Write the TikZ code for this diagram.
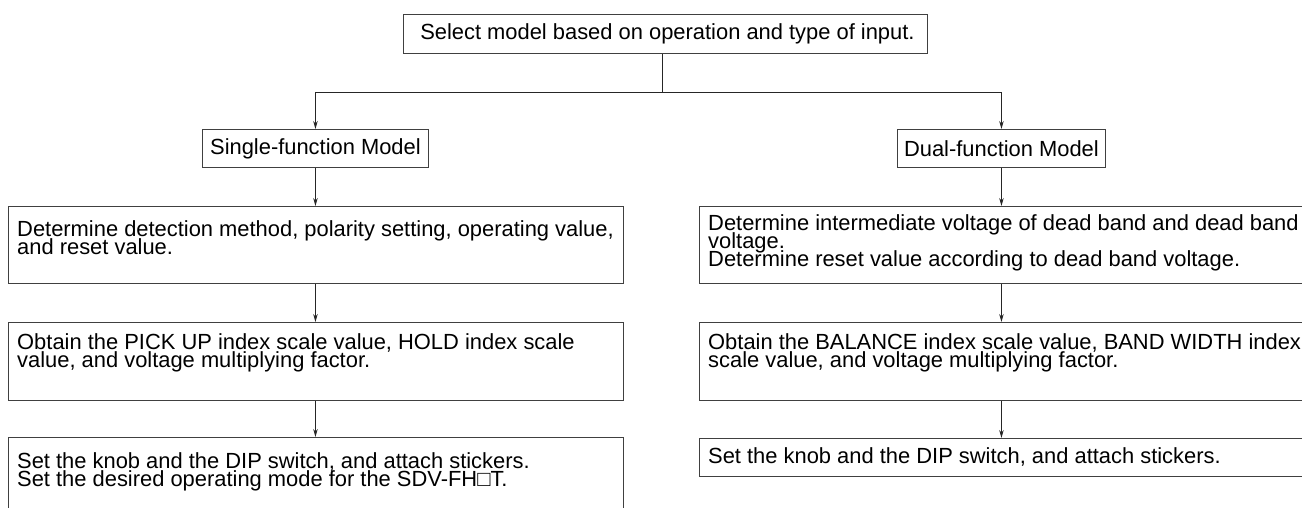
\documentclass[tikz,border=0pt]{standalone}
\usepackage{fontspec}
\setmainfont{Liberation Sans}
\usetikzlibrary{arrows.meta,calc}
\newcommand{\boxfont}{\fontsize{21.9}{18}\selectfont\lineskiplimit=-50pt\relax}
\begin{document}
\begin{tikzpicture}[x=1pt,y=-1pt,
  box/.style={draw=black!75,line width=0.9pt,inner sep=0pt,anchor=north west},
  txt/.style={anchor=north west,inner sep=0pt,align=left,font=\boxfont},
  ctxt/.style={inner sep=0pt,font=\boxfont},
  conn/.style={draw=black!85,line width=0.9pt},
  arr/.style={conn,-{Stealth[length=8pt,width=4.5pt]}}]
\useasboundingbox (0,0) rectangle (1302,508);
\clip (0,0) rectangle (1302,508);
% boxes
\node[box,minimum width=524pt,minimum height=39pt] (top) at (403,14) {};
\node[box,minimum width=226pt,minimum height=38pt] (single) at (202,129) {};
\node[box,minimum width=208pt,minimum height=38pt] (dual) at (897,129) {};
\node[box,minimum width=615pt,minimum height=77pt] (l1) at (8,206) {};
\node[box,minimum width=615pt,minimum height=78pt] (l2) at (8,322) {};
\node[box,minimum width=615pt,minimum height=90pt] (l3) at (8,437) {};
\node[box,minimum width=630pt,minimum height=77pt] (r1) at (699,206) {};
\node[box,minimum width=630pt,minimum height=78pt] (r2) at (699,322) {};
\node[box,minimum width=630pt,minimum height=38pt] (r3) at (699,438) {};
% texts
\node[ctxt] (ttop) at ($(top.center)+(2,0)$) {Select model based on operation and type of input.};
\node[ctxt] (tsingle) at (single.center) {Single-function Model};
\node[ctxt] (tdual) at (dual.center) {Dual-function Model};
\node[txt] (tl1) at ($(l1.north west)+(9,14)$) {Determine detection method, polarity setting, operating value,\\and reset value.};
\node[txt] (tl2) at ($(l2.north west)+(9,11)$) {Obtain the PICK UP index scale value, HOLD index scale\\value, and voltage multiplying factor.};
\node[txt] (tl3) at ($(l3.north west)+(9,15)$) {Set the knob and the DIP switch, and attach stickers.\\Set the desired operating mode for the SDV-FH□T.};
\node[txt] (tr1) at ($(r1.north west)+(9,8)$) {Determine intermediate voltage of dead band and dead band\\voltage.\\Determine reset value according to dead band voltage.};
\node[txt] (tr2) at ($(r2.north west)+(9,11)$) {Obtain the BALANCE index scale value, BAND WIDTH index\\scale value, and voltage multiplying factor.};
\node[ctxt,anchor=west] (tr3) at ($(r3.west)+(9,0)$) {Set the knob and the DIP switch, and attach stickers.};
% connectors
\coordinate (split) at ($(top.south |- 0,92)+(-3,0)$);
\draw[conn] (split |- top.south) -- (split);
\draw[conn] (split) -- (single.north |- split);
\draw[arr] (single.north |- split) -- (single.north);
\draw[arr] (split) -| (dual.north);
\draw[arr] (single.south) -- (single.south |- l1.north);
\draw[arr] (l1.south -| single.south) -- (l2.north -| single.south);
\draw[arr] (l2.south -| single.south) -- (l3.north -| single.south);
\draw[arr] (dual.south) -- (dual.south |- r1.north);
\draw[arr] (r1.south -| dual.south) -- (r2.north -| dual.south);
\draw[arr] (r2.south -| dual.south) -- (r3.north -| dual.south);
\end{tikzpicture}
\end{document}
